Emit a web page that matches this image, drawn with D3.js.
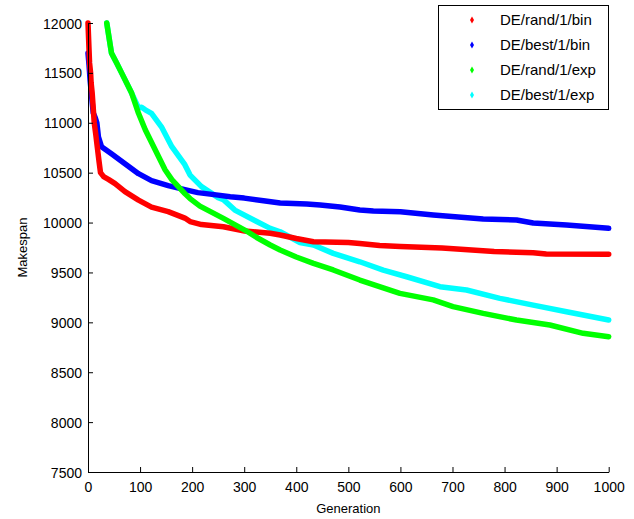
<!DOCTYPE html>
<html>
<head>
<meta charset="utf-8">
<script src="https://d3js.org/d3.v7.min.js"></script>
<style>
  body { margin: 0; background: #fff; }
  svg { font-family: "Liberation Sans", Arial, sans-serif; }
</style>
</head>
<body>
<svg id="chart" width="634" height="519"></svg>
<script>
// series (generation, makespan)
const seriesNames = ["DE/rand/1/bin", "DE/best/1/bin", "DE/rand/1/exp", "DE/best/1/exp"];
const seriesColors = ["#ff0000", "#0000ff", "#00ff00", "#00ffff"];

const randBinGen = [0, 2, 3, 5, 6, 8, 10, 12, 15, 18, 21, 24, 30, 40, 52, 71, 97, 122, 154, 186, 196, 218, 260, 301, 324, 350, 369, 400, 433, 500, 522, 560, 600, 680, 730, 780, 855, 880, 1000];
const randBinVal = [12000, 11730, 11600, 11500, 11400, 11300, 11150, 11000, 10880, 10750, 10620, 10500, 10460, 10430, 10390, 10310, 10225, 10155, 10110, 10045, 10010, 9980, 9958, 9915, 9905, 9892, 9875, 9840, 9808, 9800, 9790, 9770, 9760, 9745, 9728, 9710, 9697, 9685, 9682];

const bestBinGen = [0, 2, 4, 7, 10, 14, 17, 20, 26, 45, 71, 97, 122, 154, 186, 211, 250, 273, 300, 337, 369, 420, 446, 484, 522, 548, 600, 663, 759, 823, 855, 919, 1000];
const bestBinVal = [11700, 11580, 11430, 11260, 11100, 11050, 11000, 10860, 10760, 10690, 10590, 10490, 10420, 10370, 10330, 10300, 10275, 10258, 10245, 10218, 10195, 10185, 10176, 10155, 10125, 10115, 10108, 10075, 10035, 10025, 9995, 9975, 9942];

const randExpGen = [36, 45, 55, 65, 84, 97, 110, 129, 148, 161, 186, 196, 215, 260, 301, 324, 350, 369, 400, 433, 471, 522, 567, 599, 663, 701, 759, 823, 887, 951, 1000];
const randExpVal = [12000, 11700, 11600, 11495, 11295, 11095, 10930, 10730, 10530, 10430, 10290, 10240, 10165, 10042, 9925, 9850, 9775, 9725, 9655, 9591, 9525, 9424, 9345, 9290, 9225, 9158, 9090, 9023, 8973, 8890, 8856];

const bestExpGen = [36, 45, 55, 65, 84, 97, 103, 110, 122, 141, 161, 186, 196, 218, 250, 260, 282, 324, 350, 369, 407, 433, 471, 522, 567, 612, 676, 727, 791, 855, 919, 1000];
const bestExpVal = [12000, 11700, 11600, 11495, 11295, 11150, 11155, 11130, 11095, 10960, 10760, 10580, 10476, 10360, 10250, 10230, 10125, 10010, 9942, 9908, 9800, 9775, 9691, 9607, 9524, 9457, 9357, 9324, 9240, 9173, 9106, 9023];

const xTicks = [0, 100, 200, 300, 400, 500, 600, 700, 800, 900, 1000];
const yTicks = [7500, 8000, 8500, 9000, 9500, 10000, 10500, 11000, 11500, 12000];

const series = [
  [randBinGen, randBinVal],
  [bestBinGen, bestBinVal],
  [randExpGen, randExpVal],
  [bestExpGen, bestExpVal]
].map((s, i) => ({
  name: seriesNames[i],
  color: seriesColors[i],
  points: s[0].map((g, j) => ({ g: g, v: s[1][j] }))
}));

// stacking order seen in the picture: cyan under, green on top
const drawOrder = [3, 1, 0, 2];

const svg = d3.select("#chart");
const plot = { left: 88, right: 608.7, top: 23, bottom: 472 };

const x = d3.scaleLinear().domain([0, 1000]).range([plot.left, plot.right]);
const y = d3.scaleLinear().domain([7500, 12000]).range([plot.bottom, plot.top]);

// lines (thick to mimic the dense point markers)
const line = d3.line().x(d => x(d.g)).y(d => y(d.v));
svg.append("g").selectAll("path")
  .data(drawOrder.map(i => series[i]))
  .enter()
  .append("path")
    .attr("d", d => line(d.points))
    .attr("fill", "none")
    .attr("stroke", d => d.color)
    .attr("stroke-width", 5.5)
    .attr("stroke-linejoin", "round")
    .attr("stroke-linecap", "round");

// axes, ticks inward like matlab
const xAxis = svg.append("g")
  .attr("transform", "translate(0," + plot.bottom + ")")
  .call(d3.axisBottom(x).tickValues(xTicks).tickSize(-5).tickPadding(10).tickSizeOuter(0).tickFormat(d3.format("d")));
const yAxis = svg.append("g")
  .attr("transform", "translate(" + plot.left + ",0)")
  .call(d3.axisLeft(y).tickValues(yTicks).tickSize(-5).tickPadding(6).tickSizeOuter(0).tickFormat(d3.format("d")));

[xAxis, yAxis].forEach(a => {
  a.select(".domain").attr("stroke", "#000");
  a.selectAll(".tick line").attr("stroke", "#000");
  a.selectAll(".tick text")
    .attr("fill", "#000")
    .style("font-size", "14px")
    .style("font-family", "'Liberation Sans', Arial, sans-serif");
});
yAxis.selectAll(".tick text").attr("dy", "0.36em");

svg.append("text")
  .attr("x", (plot.left + plot.right) / 2)
  .attr("y", 513)
  .attr("text-anchor", "middle")
  .style("font-size", "13px")
  .text("Generation");

svg.append("text")
  .attr("transform", "translate(27," + ((plot.top + plot.bottom) / 2) + ") rotate(-90)")
  .attr("text-anchor", "middle")
  .style("font-size", "13px")
  .text("Makespan");

// legend
const legend = svg.append("g");
legend.append("rect")
  .attr("x", 438.5).attr("y", 5.5)
  .attr("width", 170).attr("height", 104)
  .attr("fill", "#fff")
  .attr("stroke", "#000");

const size = 25;
legend.selectAll("path.mark")
  .data(series)
  .enter()
  .append("path")
    .attr("class", "mark")
    .attr("d", d3.symbol().type(d3.symbolDiamond).size(14))
    .attr("transform", (d, i) => "translate(472," + (20 + i * size) + ")")
    .attr("fill", d => d.color);

legend.selectAll("text")
  .data(series)
  .enter()
  .append("text")
    .attr("x", 500)
    .attr("y", (d, i) => 20 + i * size)
    .attr("dy", "0.36em")
    .style("font-size", "15px")
    .text(d => d.name);
</script>
</body>
</html>
